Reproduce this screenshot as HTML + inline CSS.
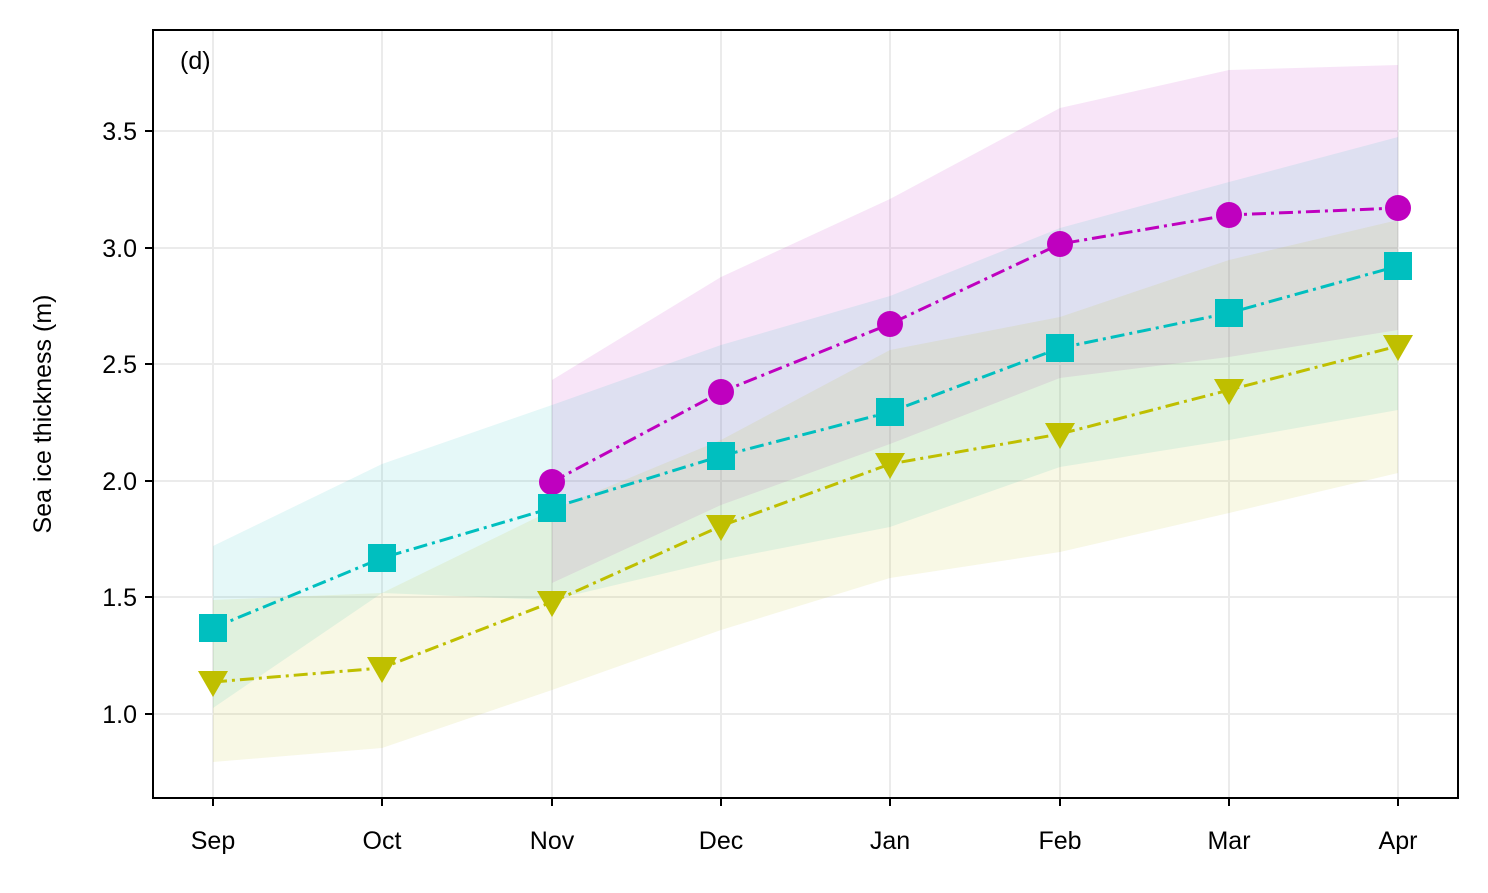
<!DOCTYPE html>
<html><head><style>body{margin:0;background:#fff}</style></head><body>
<svg width="1488" height="888" xmlns="http://www.w3.org/2000/svg" font-family="Liberation Sans, Arial, sans-serif">
<rect width="1488" height="888" fill="#fff"/>
<g stroke="#ebebeb" stroke-width="2">
<line x1="213" y1="30" x2="213" y2="798"/><line x1="382" y1="30" x2="382" y2="798"/><line x1="552" y1="30" x2="552" y2="798"/><line x1="721" y1="30" x2="721" y2="798"/><line x1="890" y1="30" x2="890" y2="798"/><line x1="1060" y1="30" x2="1060" y2="798"/><line x1="1229" y1="30" x2="1229" y2="798"/><line x1="1398" y1="30" x2="1398" y2="798"/>
<line x1="153" y1="131" x2="1458" y2="131"/><line x1="153" y1="248" x2="1458" y2="248"/><line x1="153" y1="364" x2="1458" y2="364"/><line x1="153" y1="481" x2="1458" y2="481"/><line x1="153" y1="597" x2="1458" y2="597"/><line x1="153" y1="714" x2="1458" y2="714"/>
</g>
<polygon fill="#bf00bf" fill-opacity="0.1" points="552,380 721,277 890,199 1060,108 1229,70 1398,65 1398,330 1229,357 1060,378 890,444 721,505 552,583"/>
<polygon fill="#00bfbf" fill-opacity="0.1" points="213,546 382,464 552,405 721,345 890,296 1060,228 1229,182 1398,137 1398,410 1229,440 1060,467 890,527 721,560 552,600 382,593 213,708"/>
<polygon fill="#bfbf00" fill-opacity="0.1" points="213,600 382,593 552,510 721,440 890,350 1060,317 1229,260 1398,220 1398,473 1229,513 1060,552 890,578 721,630 552,690 382,748 213,762"/>
<g fill="none" stroke-width="3" stroke-dasharray="14,5,3,5">
<polyline stroke="#bf00bf" points="552,482 721,392 890,324 1060,244 1229,215 1398,208"/>
<polyline stroke="#00bfbf" points="213,628 382,558 552,508 721,456 890,412 1060,348 1229,313 1398,266"/>
<polyline stroke="#bfbf00" points="213,682 382,668 552,602 721,526 890,464 1060,434 1229,390 1398,346"/>
</g>
<g fill="#bf00bf"><circle cx="552" cy="482" r="13"/><circle cx="721" cy="392" r="13"/><circle cx="890" cy="324" r="13"/><circle cx="1060" cy="244" r="13"/><circle cx="1229" cy="215" r="13"/><circle cx="1398" cy="208" r="13"/></g>
<g fill="#00bfbf"><rect x="199" y="614" width="28" height="28"/><rect x="368" y="544" width="28" height="28"/><rect x="538" y="494" width="28" height="28"/><rect x="707" y="442" width="28" height="28"/><rect x="876" y="398" width="28" height="28"/><rect x="1046" y="334" width="28" height="28"/><rect x="1215" y="299" width="28" height="28"/><rect x="1384" y="252" width="28" height="28"/></g>
<g fill="#bfbf00">
<polygon points="198,671 228,671 213,697"/>
<polygon points="367,657 397,657 382,683"/>
<polygon points="537,591 567,591 552,617"/>
<polygon points="706,515 736,515 721,541"/>
<polygon points="875,453 905,453 890,479"/>
<polygon points="1045,423 1075,423 1060,449"/>
<polygon points="1214,379 1244,379 1229,405"/>
<polygon points="1383,335 1413,335 1398,361"/>
</g>
<rect x="153" y="30" width="1305" height="768" fill="none" stroke="#000" stroke-width="2"/>
<g stroke="#000" stroke-width="2">
<line x1="213" y1="798" x2="213" y2="806"/><line x1="382" y1="798" x2="382" y2="806"/><line x1="552" y1="798" x2="552" y2="806"/><line x1="721" y1="798" x2="721" y2="806"/><line x1="890" y1="798" x2="890" y2="806"/><line x1="1060" y1="798" x2="1060" y2="806"/><line x1="1229" y1="798" x2="1229" y2="806"/><line x1="1398" y1="798" x2="1398" y2="806"/>
<line x1="145" y1="131" x2="153" y2="131"/><line x1="145" y1="248" x2="153" y2="248"/><line x1="145" y1="364" x2="153" y2="364"/><line x1="145" y1="481" x2="153" y2="481"/><line x1="145" y1="597" x2="153" y2="597"/><line x1="145" y1="714" x2="153" y2="714"/>
</g>
<g font-size="25" text-anchor="middle">
<text x="213" y="849">Sep</text><text x="382" y="849">Oct</text><text x="552" y="849">Nov</text><text x="721" y="849">Dec</text><text x="890" y="849">Jan</text><text x="1060" y="849">Feb</text><text x="1229" y="849">Mar</text><text x="1398" y="849">Apr</text>
</g>
<g font-size="25" text-anchor="end">
<text x="137" y="140">3.5</text><text x="137" y="257">3.0</text><text x="137" y="373">2.5</text><text x="137" y="490">2.0</text><text x="137" y="606">1.5</text><text x="137" y="723">1.0</text>
</g>
<text x="180" y="69" font-size="25">(d)</text>
<text transform="translate(51,414) rotate(-90)" font-size="25" text-anchor="middle">Sea ice thickness (m)</text>
</svg>
</body></html>
